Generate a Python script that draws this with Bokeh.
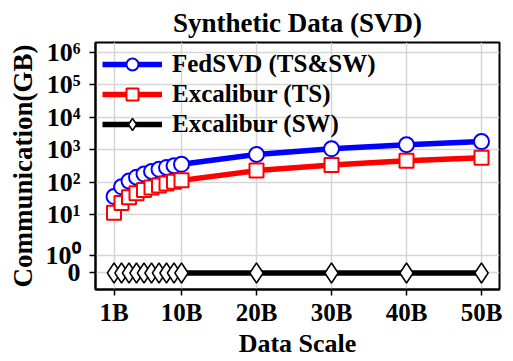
import math
from bokeh.plotting import figure
from bokeh.models import FixedTicker, Legend, LegendItem
from bokeh.embed import file_html
from bokeh.resources import INLINE

# ---- data ----
scale = [1, 2, 3, 4, 5, 6, 7, 8, 9, 10, 20, 30, 40, 50]
x_ticks = [1, 10, 20, 30, 40, 50]
x_tick_labels = ["1B", "10B", "20B", "30B", "40B", "50B"]
fedsvd = [36, 72, 108, 143, 178, 214, 250, 286, 322, 357, 715, 1072, 1430, 1787]
excal_ts = [11.4, 22.8, 34.2, 45.6, 57, 68.4, 79.8, 91.2, 102.6, 114, 228, 342, 456, 570]
excal_sw = [0, 0, 0, 0, 0, 0, 0, 0, 0, 0, 0, 0, 0, 0]
y_tick_values = [0, 1, 10, 100, 1000, 10000, 100000, 1000000]
y_tick_labels = ["0", "10⁰", "10¹", "10²", "10³", "10⁴", "10⁵", "10⁶"]

# piecewise symlog-like axis transform (positions in "decade" units)
POS_ZERO = -0.8
POS_ONE = -0.25


def ypos(v):
    if v <= 0:
        return POS_ZERO
    if v >= 10:
        return math.log10(v)
    if v >= 1:
        return POS_ONE + (1 - POS_ONE) * math.log10(v)
    return POS_ZERO + (POS_ONE - POS_ZERO) * v


FONT = "Liberation Serif"

p = figure(width=505, height=360, output_backend="svg", toolbar_location=None,
           x_range=(-1.47, 52.4), y_range=(-1.31, 6.31),
           min_border_left=95, min_border_right=6, min_border_top=40, min_border_bottom=70,
           title="Synthetic Data (SVD)")

p.title.text_font = FONT
p.title.text_font_style = "bold"
p.title.text_font_size = "27px"
p.title.align = "center"
p.title.text_color = "black"

p.outline_line_color = "black"
p.outline_line_width = 2
p.outline_line_alpha = 1

for ax in (p.xaxis[0], p.yaxis[0]):
    ax.axis_line_width = 2
    ax.axis_line_color = "black"
    ax.major_tick_line_color = "black"
    ax.major_tick_line_width = 1.5
    ax.major_tick_out = 6
    ax.major_tick_in = 0
    ax.minor_tick_line_color = None
    ax.major_label_text_font = FONT
    ax.major_label_text_font_style = "bold"
    ax.major_label_text_color = "black"
    ax.axis_label_text_font = FONT
    ax.axis_label_text_font_style = "bold"
    ax.axis_label_text_color = "black"

p.xaxis.ticker = FixedTicker(ticks=x_ticks)
p.xaxis.major_label_overrides = {t: l for t, l in zip(x_ticks, x_tick_labels)}
p.xaxis.major_label_text_font_size = "25px"
p.xaxis.major_label_standoff = 3
p.xaxis.axis_label = "Data Scale"
p.xaxis.axis_label_text_font_size = "26px"
p.xaxis.axis_label_standoff = 0

ytick_pos = [ypos(v) for v in y_tick_values]
p.yaxis.ticker = FixedTicker(ticks=ytick_pos)
p.yaxis.major_label_overrides = {t: l for t, l in zip(ytick_pos, y_tick_labels)}
p.yaxis.major_label_text_font_size = "26px"
p.yaxis.major_label_standoff = 9
p.yaxis.axis_label = "Communication(GB)"
p.yaxis.axis_label_text_font_size = "27px"
p.yaxis.axis_label_standoff = 5

p.xgrid.ticker = FixedTicker(ticks=x_ticks)
p.ygrid.ticker = FixedTicker(ticks=ytick_pos)
for g in (p.xgrid[0], p.ygrid[0]):
    g.grid_line_color = "#d6d6d6"
    g.grid_line_width = 1.5

fy = [ypos(v) for v in fedsvd]
ty = [ypos(v) for v in excal_ts]
sy = [ypos(v) for v in excal_sw]

l1 = p.line(scale, fy, line_color="#0000ff", line_width=5.5)
m1 = p.scatter(scale, fy, marker="circle", size=15, fill_color="white",
               line_color="#0000ff", line_width=2)
l2 = p.line(scale, ty, line_color="#ff0000", line_width=5.5)
m2 = p.scatter(scale, ty, marker="square", size=14, fill_color="white",
               line_color="#ff0000", line_width=2)
l3 = p.line(scale, sy, line_color="black", line_width=5.5)
m3 = p.scatter(scale, sy, marker="diamond", size=20, fill_color="white",
               line_color="black", line_width=1.5)

legend = Legend(items=[
    LegendItem(label="FedSVD (TS&SW)", renderers=[l1, m1]),
    LegendItem(label="Excalibur (TS)", renderers=[l2, m2]),
    LegendItem(label="Excalibur (SW)", renderers=[l3, m3]),
], location="top_left")
legend.background_fill_alpha = 0
legend.border_line_alpha = 0
legend.label_text_font = FONT
legend.label_text_font_style = "bold"
legend.label_text_font_size = "25px"
legend.label_text_color = "black"
legend.glyph_width = 60
legend.glyph_height = 30
legend.label_height = 28
legend.label_standoff = 10
legend.spacing = 0
legend.padding = 7
legend.margin = 0
p.add_layout(legend)

open("out.html", "w").write(file_html(p, INLINE))
